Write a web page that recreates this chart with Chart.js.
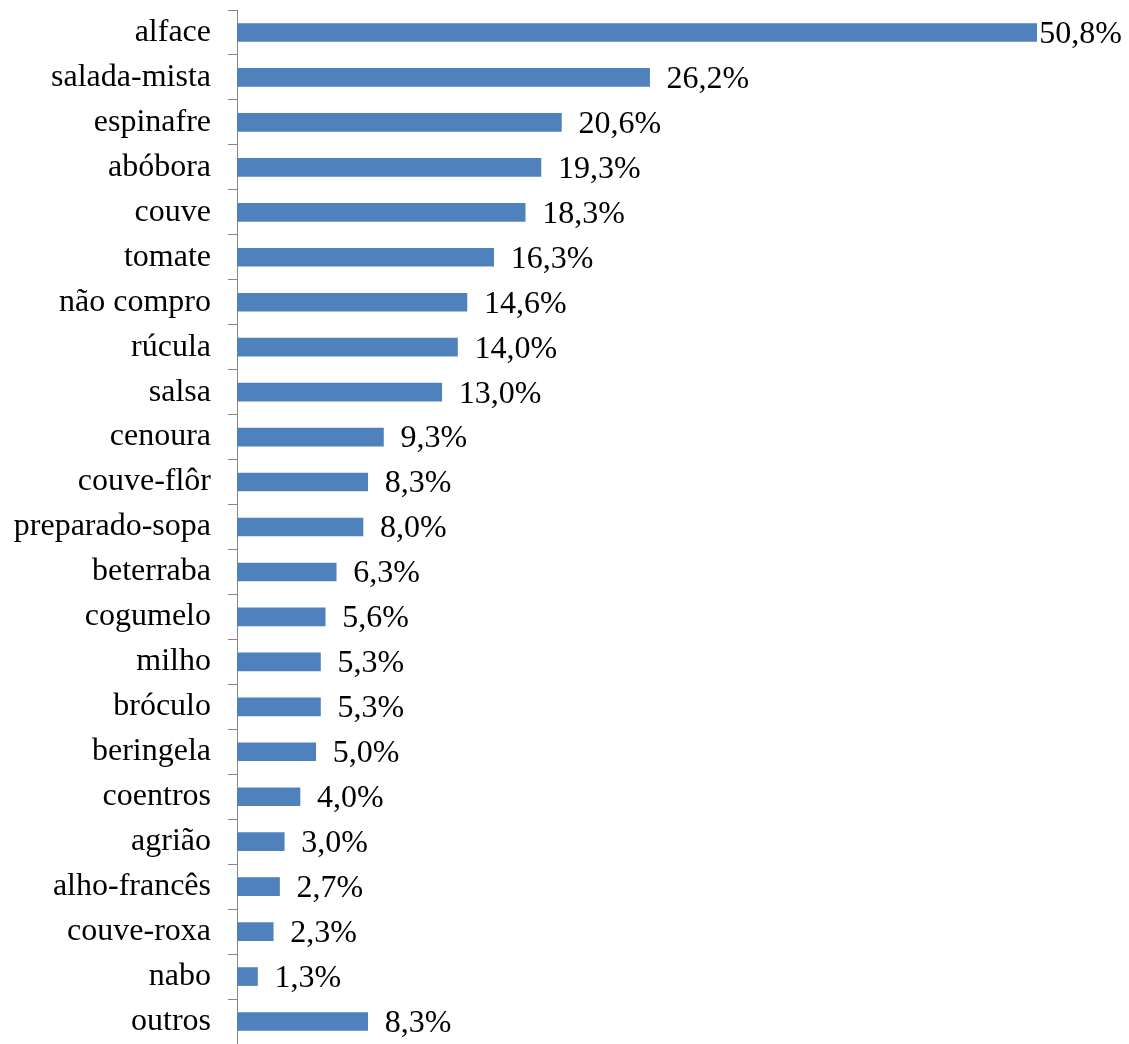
<!DOCTYPE html>
<html>
<head>
<meta charset="utf-8">
<script src="https://cdn.jsdelivr.net/npm/chart.js@4.4.1/dist/chart.umd.min.js"></script>
<style>
  html, body { margin: 0; padding: 0; background: #fff; }
  #wrap { width: 1129px; height: 1044px; }
</style>
</head>
<body>
<div id="wrap"><canvas id="chart"></canvas></div>
<script>
const categories = ["alface", "salada-mista", "espinafre", "abóbora", "couve", "tomate", "não compro",
  "rúcula", "salsa", "cenoura", "couve-flôr", "preparado-sopa", "beterraba", "cogumelo", "milho",
  "bróculo", "beringela", "coentros", "agrião", "alho-francês", "couve-roxa", "nabo", "outros"];
const percentages = [50.8, 26.2, 20.6, 19.3, 18.3, 16.3, 14.6, 14.0, 13.0, 9.3, 8.3, 8.0, 6.3,
  5.6, 5.3, 5.3, 5.0, 4.0, 3.0, 2.7, 2.3, 1.3, 8.3];

const fontFamily = "'Liberation Serif', 'Times New Roman', serif";

// value labels next to each bar, pushed left if they would run off the canvas
const valueLabels = {
  id: "valueLabels",
  afterDatasetsDraw(chart) {
    const ctx = chart.ctx;
    const meta = chart.getDatasetMeta(0);
    ctx.save();
    ctx.font = "32px " + fontFamily;
    ctx.fillStyle = "#000";
    ctx.textBaseline = "middle";
    meta.data.forEach((bar, i) => {
      const text = percentages[i].toFixed(1).replace(".", ",") + "%";
      const w = ctx.measureText(text).width;
      let x = bar.x + 17;
      if (x + w > chart.width - 7) x = chart.width - 7 - w;
      ctx.fillText(text, x, bar.y + 2);
    });
    ctx.restore();
  }
};

new Chart(document.getElementById("chart"), {
  type: "bar",
  data: {
    labels: categories,
    datasets: [{
      data: percentages,
      backgroundColor: "#4F81BD",
      borderWidth: 0,
      barThickness: 18
    }]
  },
  options: {
    indexAxis: "y",
    responsive: true,
    maintainAspectRatio: false,
    animation: false,
    layout: { padding: { top: 10, right: 92, bottom: 0, left: 0 } },
    plugins: {
      legend: { display: false },
      tooltip: { enabled: false }
    },
    scales: {
      x: {
        display: false,
        min: 0,
        max: 50.8
      },
      y: {
        afterFit(scale) {
          scale.width = 237;
          scale.paddingTop = 0;
          scale.paddingBottom = 0;
        },
        grid: {
          offset: true,
          drawOnChartArea: false,
          drawTicks: true,
          tickLength: 9,
          color: "#868686"
        },
        border: { display: true, color: "#868686", width: 1 },
        ticks: {
          color: "#000",
          padding: 17,
          font: { family: fontFamily, size: 32 }
        }
      }
    }
  },
  plugins: [valueLabels]
});
</script>
</body>
</html>
